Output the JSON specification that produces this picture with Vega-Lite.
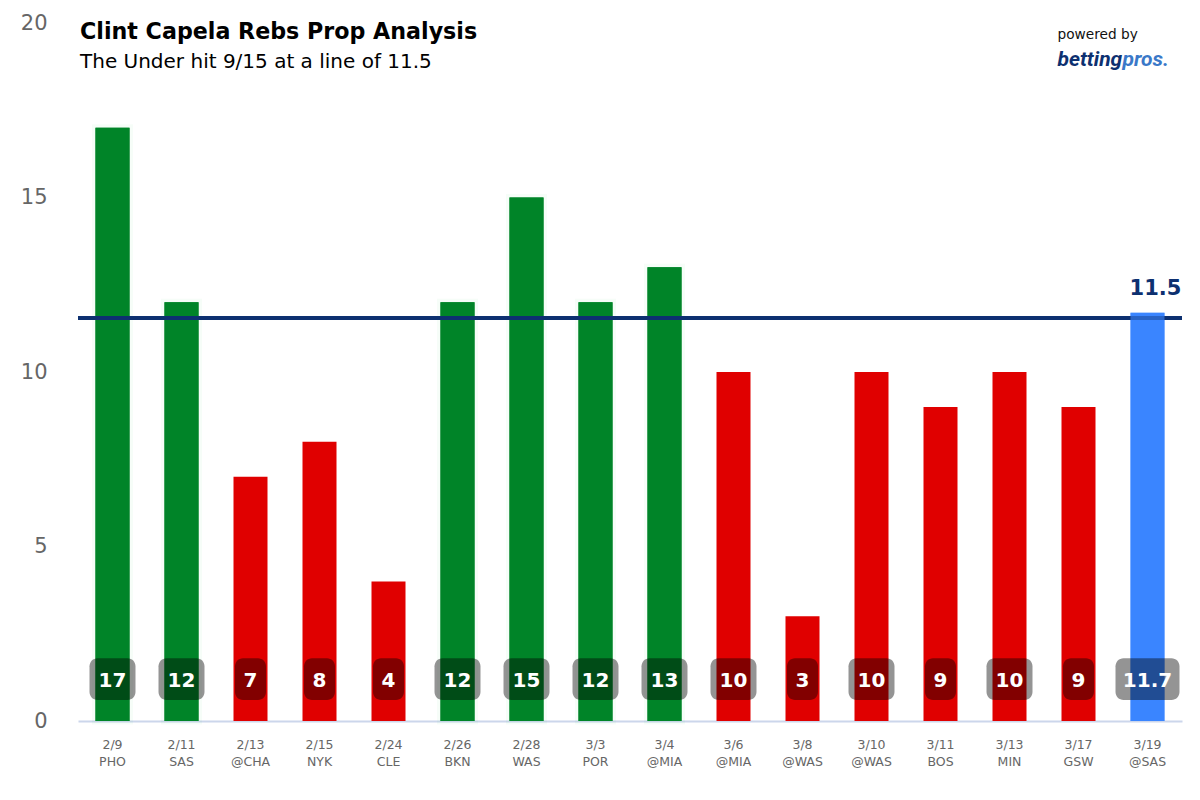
{"$schema":"https://vega.github.io/schema/vega-lite/v6.json","width":1104,"height":698,"autosize":{"type":"none"},"padding":{"left":78,"top":23,"right":18,"bottom":79},"background":"white","config":{"view":{"stroke":null},"font":"DejaVu Sans"},
"title":{"text":"Clint Capela Rebs Prop Analysis","subtitle":"The Under hit 9/15 at a line of 11.5","anchor":"start","frame":"group","offset":0,"dx":2,"dy":60,"font":"DejaVu Sans","fontSize":22.2,"fontWeight":"bold","color":"#000000","subtitleFont":"DejaVu Sans","subtitleFontSize":20,"subtitleColor":"#000000","subtitlePadding":9},
"data":{"values":[
{"game":"2/9|PHO","rebs":17,"label":"17","result":"Over"},
{"game":"2/11|SAS","rebs":12,"label":"12","result":"Over"},
{"game":"2/13|@CHA","rebs":7,"label":"7","result":"Under"},
{"game":"2/15|NYK","rebs":8,"label":"8","result":"Under"},
{"game":"2/24|CLE","rebs":4,"label":"4","result":"Under"},
{"game":"2/26|BKN","rebs":12,"label":"12","result":"Over"},
{"game":"2/28|WAS","rebs":15,"label":"15","result":"Over"},
{"game":"3/3|POR","rebs":12,"label":"12","result":"Over"},
{"game":"3/4|@MIA","rebs":13,"label":"13","result":"Over"},
{"game":"3/6|@MIA","rebs":10,"label":"10","result":"Under"},
{"game":"3/8|@WAS","rebs":3,"label":"3","result":"Under"},
{"game":"3/10|@WAS","rebs":10,"label":"10","result":"Under"},
{"game":"3/11|BOS","rebs":9,"label":"9","result":"Under"},
{"game":"3/13|MIN","rebs":10,"label":"10","result":"Under"},
{"game":"3/17|GSW","rebs":9,"label":"9","result":"Under"},
{"game":"3/19|@SAS","rebs":11.7,"label":"11.7","result":"Projection"}]},
"encoding":{"x":{"field":"game","type":"nominal","sort":null,"scale":{"domain":["2/9|PHO","2/11|SAS","2/13|@CHA","2/15|NYK","2/24|CLE","2/26|BKN","2/28|WAS","3/3|POR","3/4|@MIA","3/6|@MIA","3/8|@WAS","3/10|@WAS","3/11|BOS","3/13|MIN","3/17|GSW","3/19|@SAS"],"paddingInner":0.5,"paddingOuter":0.25},"axis":{"title":null,"labelAngle":0,"labelExpr":"split(datum.label,'|')","labelFont":"DejaVu Sans","labelFontSize":12.5,"labelColor":"#666666","labelLineHeight":17,"labelPadding":23,"labelBaseline":"middle","ticks":false,"domainColor":"#ccd6eb","domainWidth":2}}},
"layer":[
{"transform":[{"filter":"datum.result=='Over'"}],"mark":{"type":"bar","width":34,"color":"#008428","stroke":"#00c040","strokeWidth":7,"strokeOpacity":0.035},"encoding":{"y":{"field":"rebs","type":"quantitative","scale":{"domain":[0,20]},"axis":{"title":null,"values":[0,5,10,15,20],"domain":false,"ticks":false,"grid":false,"labelFont":"DejaVu Sans","labelFontSize":21,"labelColor":"#666666","labelPadding":31}}}},
{"mark":{"type":"bar","width":34},"encoding":{"y":{"field":"rebs","type":"quantitative"},"color":{"field":"result","type":"nominal","legend":null,"scale":{"domain":["Over","Under","Projection"],"range":["#008428","#e00000","#3b86ff"]}}}},
{"mark":{"type":"rule","color":"#0d3070","strokeWidth":4},"encoding":{"x":null,"y":{"datum":11.55,"type":"quantitative"}}},
{"transform":[{"filter":"datum.result=='Projection'"}],"mark":{"type":"bar","width":34,"color":"#3b86ff","opacity":0.6},"encoding":{"y":{"field":"rebs","type":"quantitative"}}},
{"transform":[{"filter":"length(datum.label)==1"}],"mark":{"type":"bar","width":31,"color":"#000000","opacity":0.42,"cornerRadius":8},"encoding":{"y":{"datum":0.6,"type":"quantitative"},"y2":{"datum":1.8}}},
{"transform":[{"filter":"length(datum.label)==2"}],"mark":{"type":"bar","width":46,"color":"#000000","opacity":0.42,"cornerRadius":8},"encoding":{"y":{"datum":0.6,"type":"quantitative"},"y2":{"datum":1.8}}},
{"transform":[{"filter":"length(datum.label)==4"}],"mark":{"type":"bar","width":64,"color":"#000000","opacity":0.42,"cornerRadius":8},"encoding":{"y":{"datum":0.6,"type":"quantitative"},"y2":{"datum":1.8}}},
{"mark":{"type":"text","color":"#ffffff","fontSize":20,"fontWeight":"bold","font":"DejaVu Sans","baseline":"middle"},"encoding":{"y":{"datum":1.15,"type":"quantitative"},"text":{"field":"label"}}},
{"transform":[{"filter":"datum.label=='11.7'"}],"mark":{"type":"text","color":"#0d3070","fontSize":21,"fontWeight":"bold","font":"DejaVu Sans","baseline":"middle","dx":8},"encoding":{"y":{"datum":12.37,"type":"quantitative"},"text":{"value":"11.5"}}},
{"transform":[{"filter":"datum.game=='3/17|GSW'"}],"mark":{"type":"text","color":"#111111","fontSize":13.7,"font":"DejaVu Sans","align":"left","baseline":"middle","dx":-21},"encoding":{"y":{"datum":19.65,"type":"quantitative"},"text":{"value":"powered by"}}},
{"transform":[{"filter":"datum.game=='3/17|GSW'"}],"mark":{"type":"text","color":"#0d3070","fontSize":21,"fontWeight":"bold","fontStyle":"italic","font":"Roboto","align":"left","baseline":"middle","dx":-21},"encoding":{"y":{"datum":18.95,"type":"quantitative"},"text":{"value":"betting"}}},
{"transform":[{"filter":"datum.game=='3/17|GSW'"}],"mark":{"type":"text","color":"#3a78c8","fontSize":21,"fontWeight":"bold","fontStyle":"italic","font":"Roboto","align":"left","baseline":"middle","dx":44},"encoding":{"y":{"datum":18.95,"type":"quantitative"},"text":{"value":"pros."}}}
]}
